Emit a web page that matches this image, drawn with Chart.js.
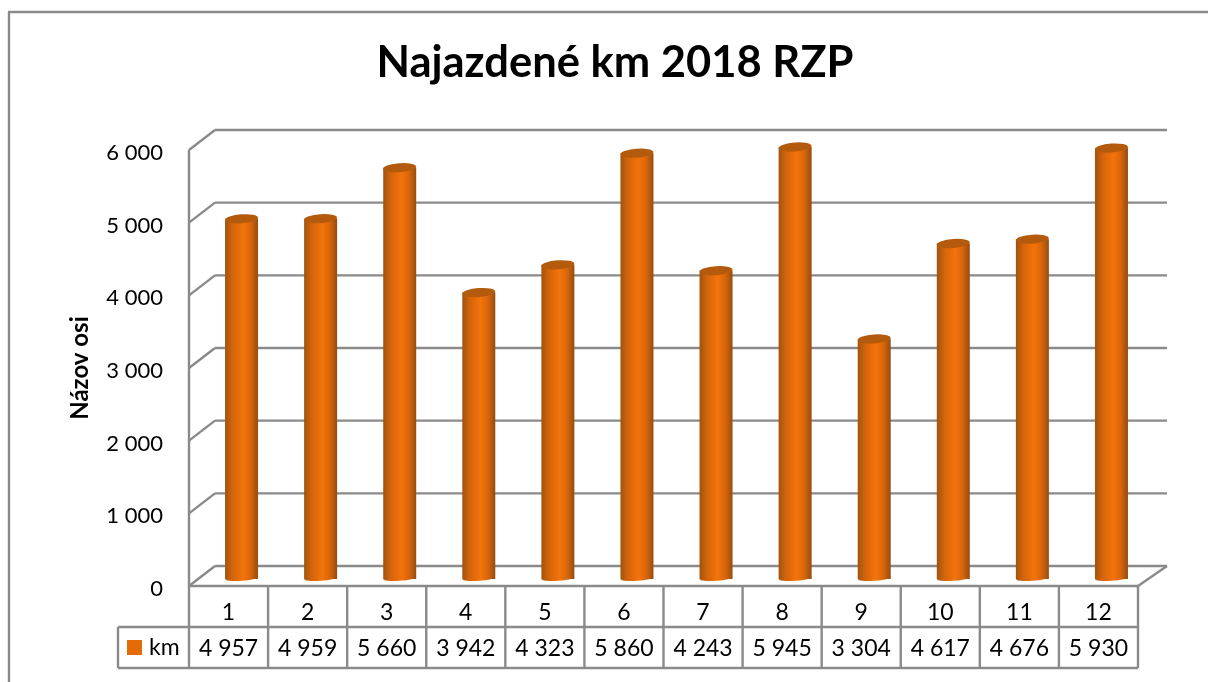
<!DOCTYPE html>
<html lang="sk">
<head>
<meta charset="UTF-8" />
<title>Najazdené km 2018 RZP</title>
<script src="https://cdn.jsdelivr.net/npm/chart.js@4/dist/chart.umd.js"></script>
<style>
  html, body { margin: 0; padding: 0; background: #fff; overflow: hidden; }
  canvas { display: block; }
</style>
</head>
<body>
<canvas id="chart" width="1208" height="682"></canvas>
<script>
const months = ['1', '2', '3', '4', '5', '6', '7', '8', '9', '10', '11', '12'];
const km = [4957, 4959, 5660, 3942, 4323, 5860, 4243, 5945, 3304, 4617, 4676, 5930];
const yTicks = [0, 1000, 2000, 3000, 4000, 5000, 6000];
const seriesName = 'km';

const lineColor = '#8a8a8a';
const lineW = 2.4;
const fontName = 'Lato, Carlito, "Open Sans", sans-serif';

// fake 3D depth: the back wall sits this far from the front plane
const depthX = 26;
const depthXRight = 29;
const depthY = 20;
const barLift = 7;
const labelDrop = 3;
const pxPerKm = 436 / 6000;
const frontBottom = 586;
const rowH = 41;

function fmt(v) {
    return String(v).replace(/\B(?=(\d{3})+$)/g, ' ');
}

function hline(ctx, x1, y1, x2, y2) {
    ctx.beginPath();
    ctx.moveTo(x1, y1);
    ctx.lineTo(x2, y2);
    ctx.stroke();
}

function barGradient(ctx, cx, r) {
    const g = ctx.createLinearGradient(cx - r, 0, cx + r, 0);
    g.addColorStop(0, '#a0530f');
    g.addColorStop(0.22, '#d2640b');
    g.addColorStop(0.55, '#f4730a');
    g.addColorStop(0.78, '#d8660b');
    g.addColorStop(1, '#964c10');
    return g;
}

const wallPlugin = {
    id: 'wall',
    beforeDatasetsDraw(chart) {
        const ctx = chart.ctx;
        const y = chart.scales.y;
        const x = chart.scales.x;
        const left = x.left - depthX / 2;
        const right = x.right - depthX / 2;
        ctx.save();
        ctx.strokeStyle = lineColor;
        ctx.lineWidth = lineW;
        yTicks.forEach(t => {
            const py = y.getPixelForValue(t) - labelDrop;
            hline(ctx, left, py, left + depthX, py - depthY);
            hline(ctx, left + depthX, py - depthY, right + depthXRight, py - depthY);
        });
        hline(ctx, left, y.getPixelForValue(0) - labelDrop, left, y.getPixelForValue(6000) - labelDrop);
        hline(ctx, right, frontBottom, right + depthXRight, frontBottom - depthY);
        ctx.restore();
    }
};

// round caps on the bars, placed from the bar elements
const cylinderPlugin = {
    id: 'cylinder',
    afterDatasetsDraw(chart) {
        const ctx = chart.ctx;
        chart.getDatasetMeta(0).data.forEach(bar => {
            const r = bar.width / 2;
            ctx.save();
            ctx.fillStyle = barGradient(ctx, bar.x, r);
            ctx.beginPath();
            ctx.ellipse(bar.x, bar.base - 1, r, 2.8, -0.07, 0, Math.PI);
            ctx.fill();
            ctx.fillStyle = '#b45a0c';
            ctx.beginPath();
            ctx.ellipse(bar.x, bar.y, r, 4.5, -0.07, 0, Math.PI * 2);
            ctx.fill();
            ctx.restore();
        });
    }
};

const tablePlugin = {
    id: 'dataTable',
    afterDraw(chart) {
        const ctx = chart.ctx;
        const x = chart.scales.x;
        const left = x.left - depthX / 2;
        const cellW = (x.right - x.left) / months.length;
        const legendLeft = 118;
        const top = frontBottom;
        ctx.save();
        ctx.strokeStyle = lineColor;
        ctx.lineWidth = lineW;
        // outer frame of the chart, cut by the page on the right and bottom
        hline(ctx, 9, 682, 9, 12);
        hline(ctx, 8, 12, 1208, 12);

        hline(ctx, left, top, left + cellW * months.length, top);
        hline(ctx, legendLeft, top + rowH, left + cellW * months.length, top + rowH);
        hline(ctx, legendLeft, top + rowH * 2, left + cellW * months.length, top + rowH * 2);
        hline(ctx, legendLeft, top + rowH, legendLeft, top + rowH * 2);
        for (let i = 0; i <= months.length; i++) {
            hline(ctx, left + cellW * i, top, left + cellW * i, top + rowH * 2);
        }

        ctx.fillStyle = '#000';
        ctx.font = '23px ' + fontName;
        ctx.textAlign = 'center';
        ctx.textBaseline = 'middle';
        months.forEach((m, i) => {
            const cx = left + cellW * (i + 0.5);
            ctx.fillText(m, cx, top + 27);
            ctx.fillText(fmt(km[i]), cx, top + rowH + 22);
        });
        ctx.textAlign = 'left';
        ctx.fillText(seriesName, 149, top + rowH + 21);
        ctx.fillStyle = '#e36c09';
        ctx.fillRect(127, top + rowH + 13, 15, 15);
        ctx.restore();
    }
};

const headingPlugin = {
    id: 'heading',
    afterDraw(chart) {
        const ctx = chart.ctx;
        ctx.save();
        ctx.fillStyle = '#000';
        ctx.textAlign = 'center';
        ctx.textBaseline = 'middle';
        ctx.font = 'bold 43.5px ' + fontName;
        ctx.fillText('Najazdené km 2018 RZP', 615, 63);
        ctx.translate(80, 368);
        ctx.rotate(-Math.PI / 2);
        ctx.font = 'bold 24px ' + fontName;
        ctx.fillText('Názov osi', 0, 0);
        ctx.restore();
    }
};

new Chart(document.getElementById('chart').getContext('2d'), {
    type: 'bar',
    data: {
        labels: months,
        datasets: [{
            label: seriesName,
            data: km,
            xAxisID: 'x',
            yAxisID: 'yBars',
            categoryPercentage: 1,
            barPercentage: 33 / 79.08,
            borderWidth: 0,
            clip: false,
            backgroundColor: c => {
                if (c.dataIndex === undefined) return '#e36c09';
                return barGradient(c.chart.ctx, c.chart.scales.x.getPixelForTick(c.dataIndex), 16.5);
            }
        }]
    },
    options: {
        responsive: false,
        animation: false,
        events: [],
        layout: { padding: { left: 70, right: 57, top: 130, bottom: 96 } },
        plugins: {
            legend: { display: false },
            tooltip: { enabled: false },
            title: { display: false }
        },
        scales: {
            x: {
                display: false,
                type: 'category',
                offset: true,
                grid: { display: false }
            },
            // front plane, carries the tick labels
            y: {
                type: 'linear',
                position: 'left',
                min: labelDrop / pxPerKm,
                max: (456 + labelDrop) / pxPerKm,
                afterBuildTicks: s => { s.ticks = yTicks.map(v => ({ value: v })); },
                afterFit: s => { s.width = 132; },
                grid: { display: false, drawTicks: false },
                border: { display: false },
                ticks: {
                    padding: 39,
                    color: '#000',
                    font: { family: fontName, size: 22 },
                    callback: v => fmt(v)
                }
            },
            // same area, moved back so the bars stand between the floor edges
            yBars: {
                display: false,
                type: 'linear',
                min: -barLift / pxPerKm,
                max: (456 - barLift) / pxPerKm
            }
        }
    },
    plugins: [wallPlugin, cylinderPlugin, tablePlugin, headingPlugin]
});
</script>
</body>
</html>
